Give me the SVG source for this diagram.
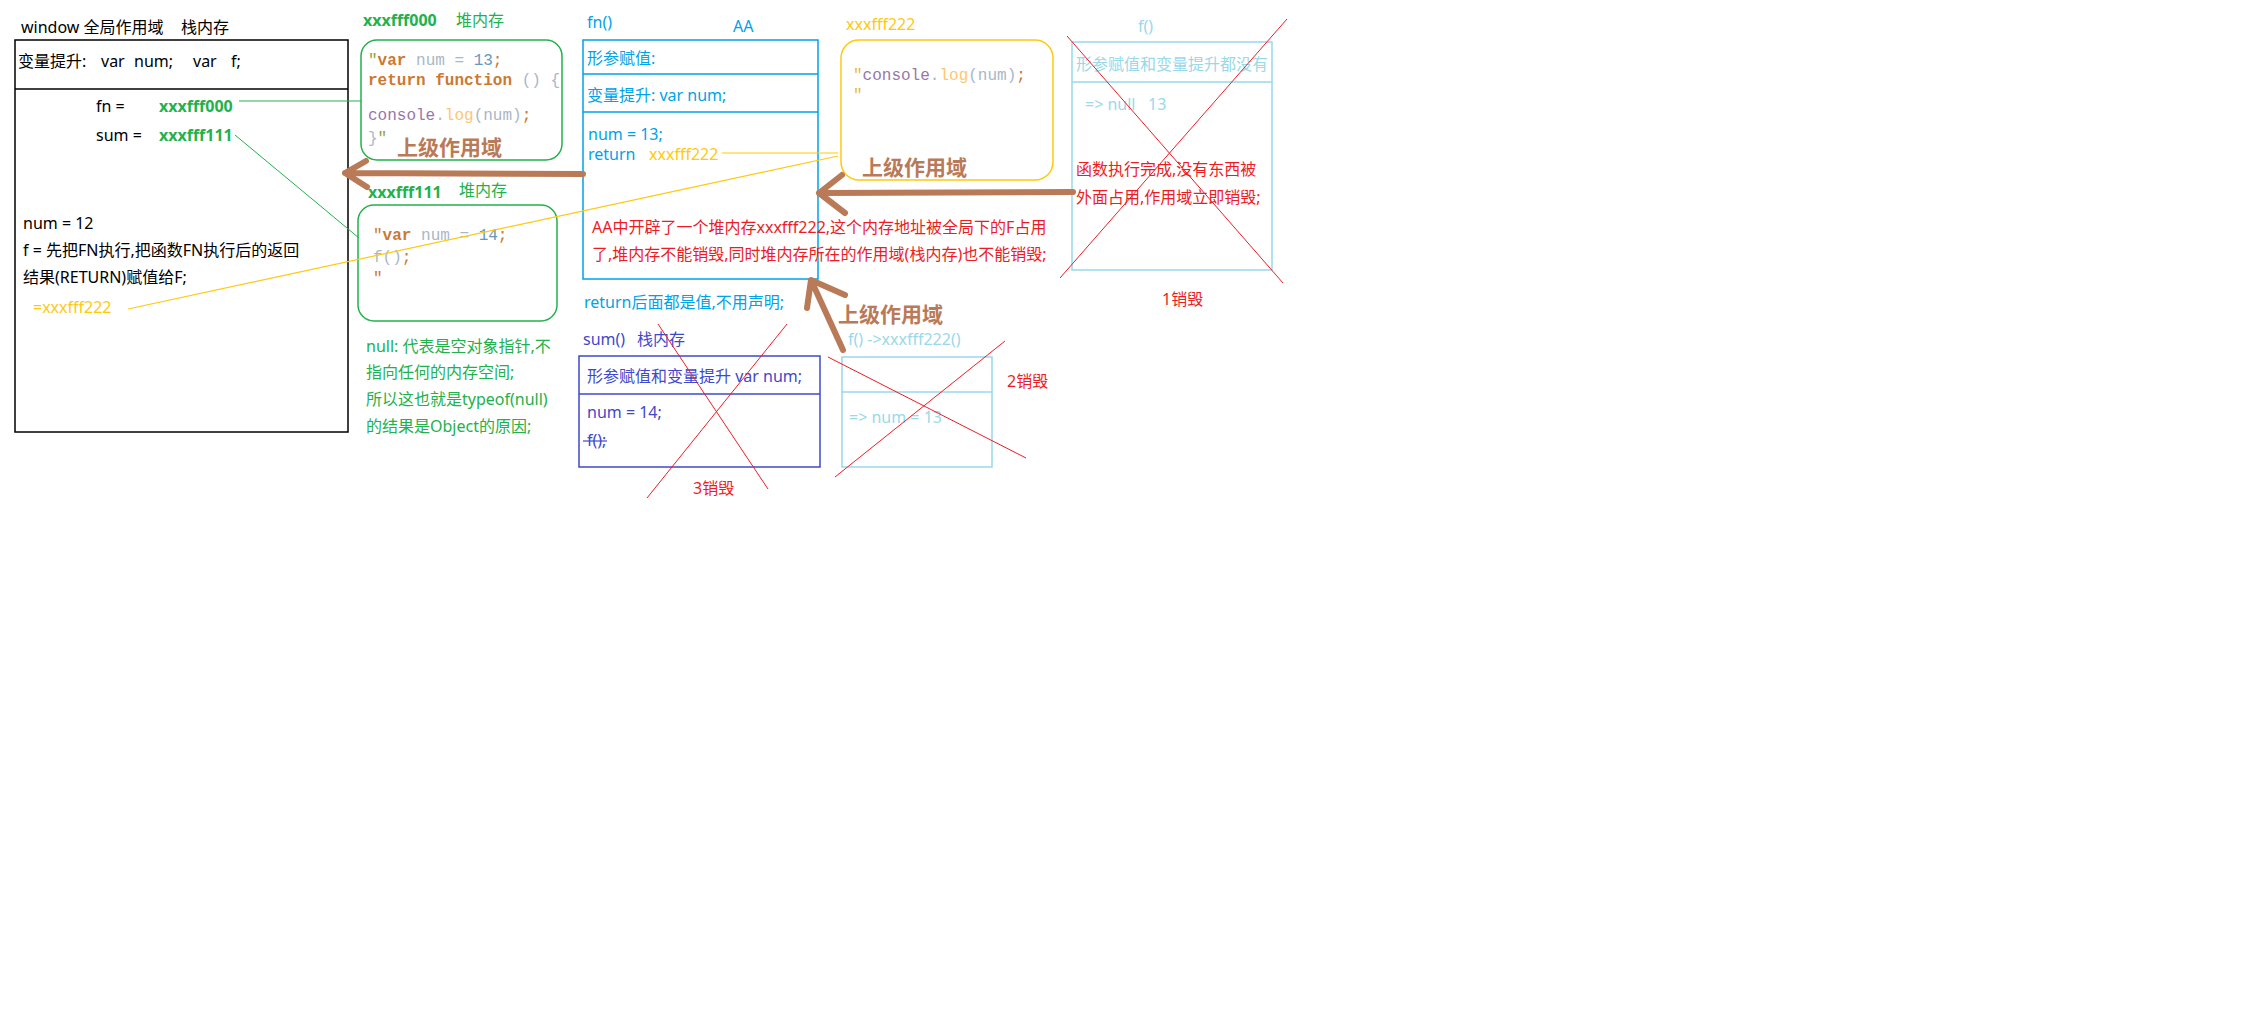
<svg xmlns="http://www.w3.org/2000/svg" width="2266" height="1012" viewBox="0 0 2266 1012">
<style>
text{font-family:'Noto Sans','Noto Sans CJK SC',sans-serif;font-size:16px;white-space:pre}
.k{fill:#000}
.bl{fill:#00a2e8}
.lb{fill:#99d9ea}
.ind{fill:#3f48cc}
.gr{fill:#22b14c}
.ye{fill:#ffc90e}
.rd{fill:#ed1c24}
.bw{fill:#b97a57;font-weight:bold;font-size:21px}
.b{font-weight:bold}
.code{font-family:'Liberation Mono','DejaVu Sans Mono',monospace}
.kw{fill:#cc7832;font-weight:bold}
.df{fill:#a9b7c6}
.nm{fill:#6897bb}
.pu{fill:#9876aa}
.me{fill:#ffc66d}
.op{fill:#cc7832}
.box{fill:none;stroke-width:1.5}
.cross{stroke:#ed1c24;stroke-width:1;fill:none}
.arr{stroke:#b97a57;stroke-width:6;fill:none;stroke-linecap:round;stroke-linejoin:round}
</style>
<rect width="2266" height="1012" fill="#fff"/>

<g id="window">
<text class="k" x="21" y="33">window 全局作用域</text>
<text class="k" x="181" y="33">栈内存</text>
<rect class="box" x="15" y="40" width="333" height="392" stroke="#000"/>
<line x1="15" y1="89" x2="348" y2="89" stroke="#000" stroke-width="1.5"/>
<text class="k" x="18" y="67">变量提升:</text>
<text class="k" x="101" y="67">var</text>
<text class="k" x="134" y="67">num;</text>
<text class="k" x="193" y="67">var</text>
<text class="k" x="231" y="67">f;</text>
<text class="k" x="96" y="112">fn =</text>
<text class="gr b" x="159" y="112">xxxfff000</text>
<text class="k" x="96" y="141">sum =</text>
<text class="gr b" x="159" y="141">xxxfff111</text>
<text class="k" x="23" y="229">num = 12</text>
<text class="k" x="23" y="256">f = 先把FN执行,把函数FN执行后的返回</text>
<text class="k" x="23" y="283">结果(RETURN)赋值给F;</text>
<text class="ye" x="33" y="313">=xxxfff222</text>
</g>

<g id="heap000">
<text class="gr b" x="363" y="26">xxxfff000</text>
<text class="gr" x="456" y="26">堆内存</text>
<rect class="box" x="361" y="40" width="201" height="120" rx="16" stroke="#22b14c"/>
<text class="code" x="368" y="65" font-size="14.5"><tspan fill="#8ca43c">"</tspan><tspan class="kw">var</tspan><tspan class="df"> num = </tspan><tspan class="nm">13</tspan><tspan class="op">;</tspan></text>
<text class="code" x="368" y="85" font-size="14.5"><tspan class="kw">return function</tspan><tspan class="df"> () {</tspan></text>
<text class="code" x="368" y="120" font-size="14.5"><tspan class="pu">console</tspan><tspan class="df">.</tspan><tspan class="me">log</tspan><tspan class="df">(num)</tspan><tspan class="op">;</tspan></text>
<text class="code" x="368" y="143" font-size="14.5"><tspan class="df">}</tspan><tspan fill="#8ca43c">"</tspan></text>
<text class="bw" x="397" y="155">上级作用域</text>
</g>

<g id="heap111">
<text class="gr b" x="368" y="198">xxxfff111</text>
<text class="gr" x="459" y="196">堆内存</text>
<rect class="box" x="358" y="205" width="199" height="116" rx="16" stroke="#22b14c"/>
<text class="code" x="373" y="240" font-size="16"><tspan class="op">"</tspan><tspan class="kw">var</tspan><tspan class="df"> num = </tspan><tspan class="nm">14</tspan><tspan class="op">;</tspan></text>
<text class="code" x="373" y="262" font-size="16"><tspan class="df">f()</tspan><tspan class="op">;</tspan></text>
<text class="code" x="373" y="283" font-size="16"><tspan class="op">"</tspan></text>
</g>

<g id="nullnote">
<text class="gr" x="366" y="352">null: 代表是空对象指针,不</text>
<text class="gr" x="366" y="378">指向任何的内存空间;</text>
<text class="gr" x="366" y="405">所以这也就是typeof(null)</text>
<text class="gr" x="366" y="432">的结果是Object的原因;</text>
</g>

<g id="fn">
<text class="bl" x="587" y="28">fn()</text>
<text class="bl" x="733" y="32">AA</text>
<rect class="box" x="583" y="40" width="235" height="239" stroke="#00a2e8"/>
<line x1="583" y1="74" x2="818" y2="74" stroke="#00a2e8" stroke-width="1.5"/>
<line x1="583" y1="112" x2="818" y2="112" stroke="#00a2e8" stroke-width="1.5"/>
<text class="bl" x="587" y="64">形参赋值:</text>
<text class="bl" x="587" y="101">变量提升: var num;</text>
<text class="bl" x="588" y="140">num = 13;</text>
<text class="bl" x="588" y="160">return</text>
<text class="ye" x="649" y="160">xxxfff222</text>
<text class="rd" x="592" y="233">AA中开辟了一个堆内存xxxfff222,这个内存地址被全局下的F占用</text>
<text class="rd" x="592" y="260">了,堆内存不能销毁,同时堆内存所在的作用域(栈内存)也不能销毁;</text>
<text class="bl" x="584" y="308">return后面都是值,不用声明;</text>
</g>

<g id="heap222">
<text class="ye" x="846" y="30">xxxfff222</text>
<rect class="box" x="841" y="40" width="212" height="140" rx="18" stroke="#ffc90e"/>
<text class="code" x="853" y="80" font-size="13"><tspan fill="#e8b84a">"</tspan><tspan class="pu">console</tspan><tspan class="df">.</tspan><tspan class="me">log</tspan><tspan class="df">(num)</tspan><tspan class="op">;</tspan></text>
<text class="code" x="853" y="100" font-size="13"><tspan fill="#e8b84a">"</tspan></text>
<text class="bw" x="862" y="175">上级作用域</text>
</g>

<g id="f1">
<text class="lb" x="1138" y="32">f()</text>
<rect class="box" x="1072" y="42" width="200" height="228" stroke="#99d9ea"/>
<line x1="1072" y1="82" x2="1272" y2="82" stroke="#99d9ea" stroke-width="1.5"/>
<text class="lb" x="1076" y="70">形参赋值和变量提升都没有</text>
<text class="lb" x="1085" y="110">=&gt; null   13</text>
<text class="rd" x="1076" y="175">函数执行完成,没有东西被</text>
<text class="rd" x="1076" y="203">外面占用,作用域立即销毁;</text>
<line class="cross" x1="1067" y1="36" x2="1283" y2="283"/>
<line class="cross" x1="1287" y1="19" x2="1060" y2="278"/>
<text class="rd" x="1162" y="305">1销毁</text>
</g>

<g id="sum">
<text class="ind" x="583" y="345">sum()</text>
<text class="ind" x="637" y="345">栈内存</text>
<rect class="box" x="579" y="356" width="241" height="111" stroke="#3f48cc"/>
<line x1="579" y1="394" x2="820" y2="394" stroke="#3f48cc" stroke-width="1.5"/>
<text class="ind" x="587" y="382">形参赋值和变量提升 var num;</text>
<text class="ind" x="587" y="418">num = 14;</text>
<text class="ind" x="587" y="446">f();</text>
<line x1="583" y1="441" x2="607" y2="441" stroke="#3f48cc" stroke-width="1.2"/>
<line class="cross" x1="658" y1="324" x2="768" y2="489"/>
<line class="cross" x1="787" y1="324" x2="647" y2="498"/>
<text class="rd" x="693" y="494">3销毁</text>
</g>

<g id="f2">
<text class="bw" x="838" y="322">上级作用域</text>
<text class="lb" x="848" y="345">f() -&gt;xxxfff222()</text>
<rect class="box" x="842" y="357" width="150" height="110" stroke="#99d9ea"/>
<line x1="842" y1="392" x2="992" y2="392" stroke="#99d9ea" stroke-width="1.5"/>
<text class="lb" x="849" y="423">=&gt; num = 13</text>
<line class="cross" x1="828" y1="357" x2="1026" y2="458"/>
<line class="cross" x1="1005" y1="341" x2="835" y2="477"/>
<text class="rd" x="1007" y="387">2销毁</text>
</g>

<g id="connectors">
<line x1="239" y1="101" x2="361" y2="101" stroke="#22b14c" stroke-width="1"/>
<line x1="235" y1="135" x2="359" y2="238" stroke="#22b14c" stroke-width="1"/>
<line x1="128" y1="309" x2="838" y2="156" stroke="#ffc90e" stroke-width="1.2"/>
<line x1="722" y1="153" x2="838" y2="153" stroke="#ffc90e" stroke-width="1.2"/>
<path class="arr" d="M583 174 L345 173 M366 161 L345 173 L367 187"/>
<path class="arr" d="M1073 192 L819 193 M842 175 L819 193 L845 213"/>
<path class="arr" d="M843 350 L811 280 M807 308 L811 280 L845 295"/>
</g>
</svg>
